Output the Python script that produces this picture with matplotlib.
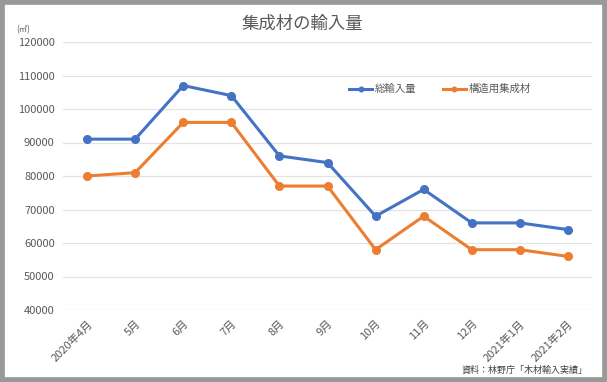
import matplotlib
matplotlib.use("Agg")
import matplotlib.pyplot as plt
from matplotlib.patches import Rectangle

plt.rcParams['font.family'] = ['Noto Sans CJK JP', 'DejaVu Sans']

categories = ["2020年4月", "5月", "6月", "7月", "8月", "9月", "10月", "11月", "12月", "2021年1月", "2021年2月"]
total_imports = [91000, 91000, 107000, 104000, 86000, 84000, 68000, 76000, 66000, 66000, 64000]
structural_glulam = [80000, 81000, 96000, 96000, 77000, 77000, 58000, 68000, 58000, 58000, 56000]
series_names = ["総輸入量", "構造用集成材"]
yticks = [40000, 50000, 60000, 70000, 80000, 90000, 100000, 110000, 120000]

W, H = 607, 382
fig = plt.figure(figsize=(W/100, H/100), dpi=100)
fig.patch.set_facecolor('white')

# outer gray frame
fig.add_artist(Rectangle((0, 0), 1, 1, transform=fig.transFigure, facecolor='none',
                         edgecolor='#999999', linewidth=7))

ax = fig.add_axes([63/W, 1 - 310/H, (592-63)/W, (310-42)/H])
x = list(range(len(categories)))
ax.plot(x, total_imports, color='#4472C4', lw=2.2, marker='o', ms=5.5, label=series_names[0], zorder=3)
ax.plot(x, structural_glulam, color='#ED7D31', lw=2.2, marker='o', ms=5.5, label=series_names[1], zorder=3)

ax.set_xlim(-0.5, len(categories) - 0.5)
ax.set_ylim(40000, 120000)
ax.set_yticks(yticks)
ax.set_yticklabels([str(v) for v in yticks], fontsize=8, color='#595959')
ax.set_xticks(x)
ax.set_xticklabels(categories, rotation=45, ha='right', rotation_mode='anchor', fontsize=8, color='#595959')
ax.tick_params(axis='both', length=0, pad=6)
ax.tick_params(axis='x', pad=6)
ax.grid(axis='y', color='#E3E3E3', lw=0.9)
ax.set_axisbelow(True)
for s in ax.spines.values():
    s.set_visible(False)

leg = ax.legend(loc='upper left', bbox_to_anchor=((345-63)/(592-63), 1 - (80-42)/(310-42)),
                ncol=2, frameon=False, fontsize=7.5, handlelength=2.2, columnspacing=2.5,
                handletextpad=0.3, borderaxespad=0, markerscale=0.6)
for t in leg.get_texts():
    t.set_color('#595959')

fig.text(302/W, 1 - 24/H, "集成材の輸入量", ha='center', va='center', fontsize=12.5, color='#595959')
fig.text(16/W, 1 - 30/H, "(㎥)", ha='left', va='center', fontsize=6, color='#595959')
fig.text(588/W, 1 - 370/H, "資料：林野庁「木材輸入実績」", ha='right', va='center', fontsize=6.5, color='#404040')

fig.savefig("out.png", dpi=100, facecolor='white')
